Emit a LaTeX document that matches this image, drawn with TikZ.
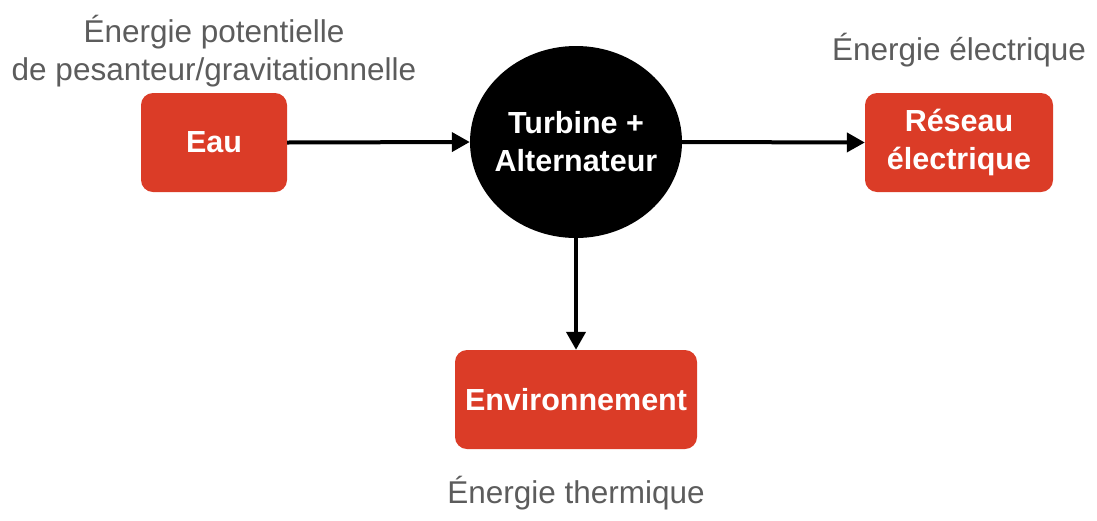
\documentclass[tikz,border=0pt]{standalone}
\usepackage{fontspec}
\setmainfont{Liberation Sans}
\usetikzlibrary{shapes.geometric,arrows.meta}
\definecolor{boxred}{HTML}{DB3C27}
\definecolor{labgray}{HTML}{5C5C5C}
\tikzset{
  redbox/.style={draw=none, fill=boxred, rounded corners=12pt, text=white,
    font=\fontsize{30.5}{38}\selectfont\bfseries, align=center, inner sep=0pt},
  energylabel/.style={text=labgray, font=\fontsize{31.5}{38}\selectfont, align=center, inner sep=0pt},
  flow/.style={line width=4pt, -{Triangle[length=18pt,width=19pt]}}
}
\begin{document}
\begin{tikzpicture}[x=1pt,y=-1pt]
\useasboundingbox (0,0) rectangle (1097,520);
\node[redbox, minimum width=146pt, minimum height=99pt] (eau) at (214,142.5) {Eau};
\node[ellipse, fill=black, minimum width=212pt, minimum height=192pt, inner sep=0pt] (turb) at (576,142) {};
\node[text=white, font=\fontsize{30.5}{38}\selectfont\bfseries, align=center, inner sep=0pt] (turbtext) at (turb.center) {Turbine +\\Alternateur};
\node[redbox, minimum width=188pt, minimum height=99pt] (res) at (959,142.5) {Réseau\\électrique};
\node[redbox, minimum width=242pt, minimum height=99pt] (env) at (576,399.5) {Environnement};
\node[energylabel] (lab1) at (214,51) {Énergie potentielle\\de pesanteur/gravitationnelle};
\node[energylabel] (lab2) at (959,50) {Énergie électrique};
\node[energylabel] (lab3) at (576,493) {Énergie thermique};
\draw[flow] (eau.east) -- (turb.west);
\draw[flow] (turb.east) -- (res.west);
\draw[flow] (turb.south) -- (env.north);
\end{tikzpicture}
\end{document}
